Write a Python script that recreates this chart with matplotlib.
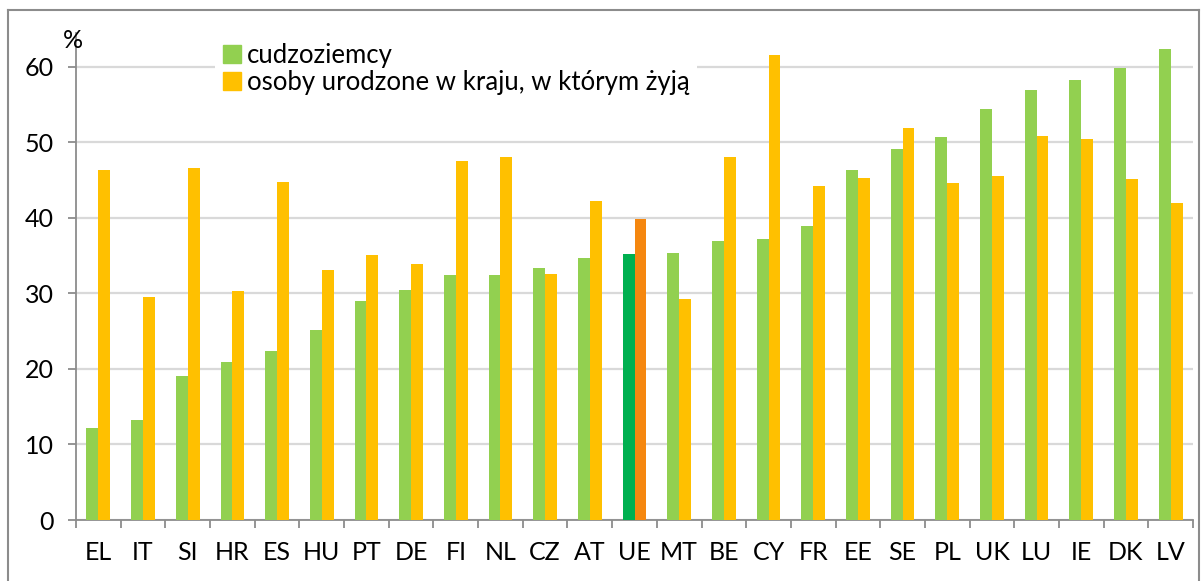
import matplotlib.pyplot as plt
import matplotlib.patches as mpatches
import numpy as np
from matplotlib.lines import Line2D

plt.rcParams["font.family"] = ["Lato", "DejaVu Sans"]

countries = ["EL", "IT", "SI", "HR", "ES", "HU", "PT", "DE", "FI", "NL", "CZ", "AT",
             "UE", "MT", "BE", "CY", "FR", "EE", "SE", "PL", "UK", "LU", "IE", "DK", "LV"]
foreigners = [12.2, 13.3, 19.1, 20.9, 22.4, 25.2, 29.0, 30.5, 32.4, 32.4, 33.4, 34.7,
              35.2, 35.4, 36.9, 37.2, 39.0, 46.3, 49.1, 50.7, 54.5, 57.0, 58.3, 59.8, 62.4]
natives = [46.4, 29.6, 46.6, 30.3, 44.8, 33.1, 35.1, 33.9, 47.6, 48.1, 32.6, 42.3,
           39.8, 29.3, 48.1, 61.6, 44.3, 45.3, 51.9, 44.6, 45.6, 50.9, 50.4, 45.1, 42.0]
series_labels = ["cudzoziemcy", "osoby urodzone w kraju, w którym żyją"]
highlight = "UE"

GREEN = "#92D050"
ORANGE = "#FFC000"
GREEN_HL = "#00B050"
ORANGE_HL = "#F5870F"
AXIS_GRAY = "#8C8C8C"

W, H = 1201, 581
fig = plt.figure(figsize=(W / 100, H / 100), dpi=100)
ax = fig.add_axes([76 / W, 1 - 520 / H, (1193 - 76) / W, (520 - 33) / H])

x = np.arange(len(countries))
bw = 0.265
g_cols = [GREEN_HL if c == highlight else GREEN for c in countries]
o_cols = [ORANGE_HL if c == highlight else ORANGE for c in countries]
ax.bar(x - bw / 2, foreigners, bw, color=g_cols, zorder=3)
ax.bar(x + bw / 2, natives, bw, color=o_cols, zorder=3)

ax.set_xlim(-0.5, len(countries) - 0.5)
ax.set_ylim(0, 64.5)
ax.set_yticks(range(0, 61, 10))
ax.grid(axis="y", color="#D9D9D9", linewidth=1.6, zorder=0)

ax.set_xticks(x)
ax.set_xticklabels(countries)
ax.set_xticks(np.arange(len(countries) + 1) - 0.5, minor=True)
ax.tick_params(axis="x", which="major", length=0, pad=15, labelsize=18)
ax.tick_params(axis="x", which="minor", length=6, width=1.3, color=AXIS_GRAY)
ax.tick_params(axis="y", length=6, width=1.3, color=AXIS_GRAY, pad=10, labelsize=18)

for s in ["top", "right"]:
    ax.spines[s].set_visible(False)
for s in ["left", "bottom"]:
    ax.spines[s].set_color(AXIS_GRAY)
    ax.spines[s].set_linewidth(1.3)

fig.text(73 / W, 1 - 40 / H, "%", fontsize=18, ha="center", va="center")

handles = [mpatches.Patch(color=GREEN), mpatches.Patch(color=ORANGE)]
leg = ax.legend(handles, series_labels, loc="upper left",
                bbox_to_anchor=(202 / W, 1 - 22 / H), bbox_transform=fig.transFigure,
                frameon=True, fontsize=18.5, handlelength=0.7, handleheight=0.7,
                handletextpad=0.25, labelspacing=0.08, borderpad=0.3)
leg.get_frame().set_edgecolor("none")
leg.get_frame().set_facecolor("white")
leg.get_frame().set_alpha(1)
leg.set_zorder(5)

# outer frame of the chart area
for xs, ys in [((8, 8), (H + 5, 10)), ((8, 1199), (10, 10)), ((1199, 1199), (10, H + 5))]:
    fig.add_artist(Line2D([v / W for v in xs], [1 - v / H for v in ys],
                          color=AXIS_GRAY, linewidth=1.5))

fig.savefig("out.png", dpi=100)
